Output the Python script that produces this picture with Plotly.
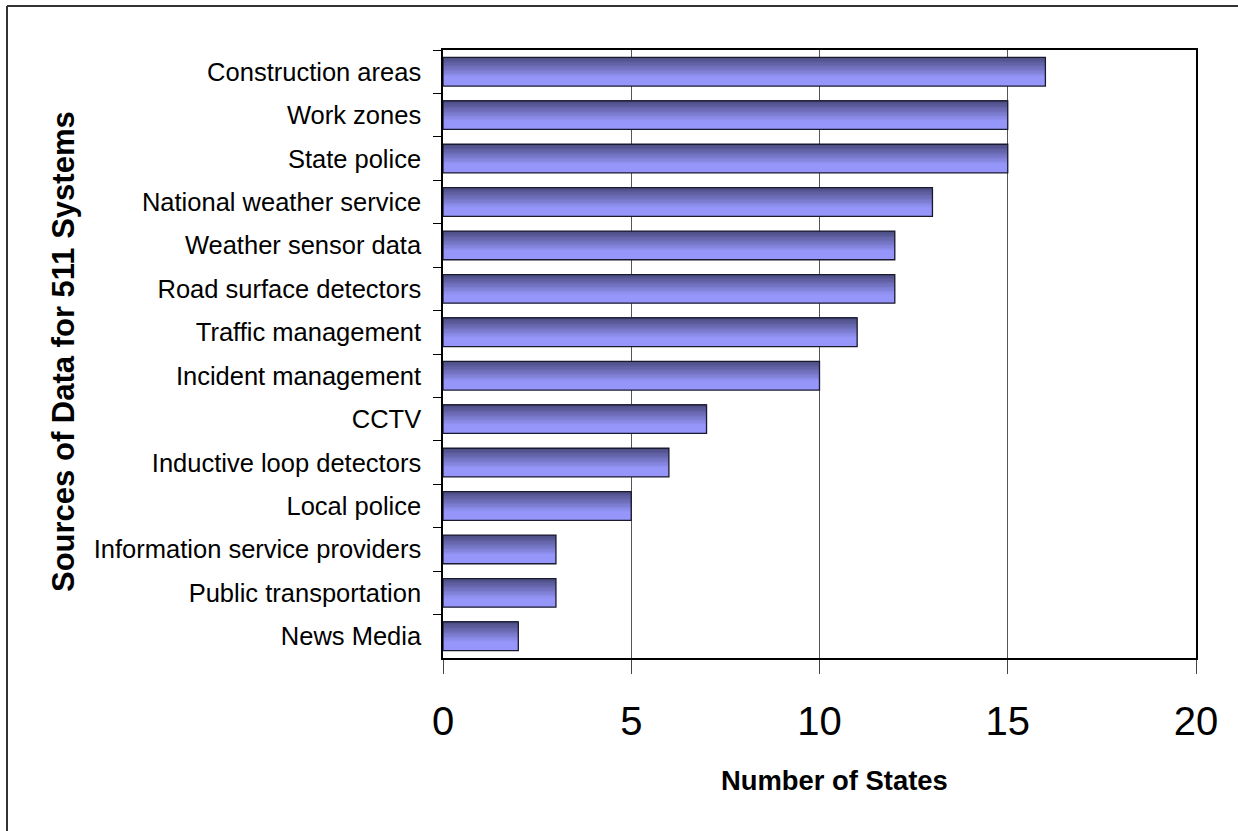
import plotly.graph_objects as go

# Sources of data feeding 511 traveler information systems
sources = [
    "Construction areas", "Work zones", "State police", "National weather service",
    "Weather sensor data", "Road surface detectors", "Traffic management",
    "Incident management", "CCTV", "Inductive loop detectors", "Local police",
    "Information service providers", "Public transportation", "News Media",
]
states = [16, 15, 15, 13, 12, 12, 11, 10, 7, 6, 5, 3, 3, 2]
x_ticks = [0, 5, 10, 15, 20]

fig = go.Figure()

# Vertical shading inside each bar: thin overlaid slices from dark (top) to light (bottom)
bar_w = 0.66
n_slices = 22
dark = (74, 74, 128)
light = (150, 150, 250)
slice_h = bar_w / n_slices
for i in range(n_slices):
    t = min(1.0, i / (n_slices * 0.7))
    c = tuple(round(dark[k] + (light[k] - dark[k]) * t) for k in range(3))
    fig.add_trace(go.Bar(
        x=states, y=sources, orientation="h",
        width=slice_h * 1.05, offset=-bar_w / 2 + i * slice_h,
        marker=dict(color="rgb(%d,%d,%d)" % c, line=dict(width=0)),
        hoverinfo="skip", showlegend=False,
    ))

# Bar outlines
fig.add_trace(go.Bar(
    x=states, y=sources, orientation="h",
    width=bar_w, offset=-bar_w / 2,
    marker=dict(color="rgba(0,0,0,0)", line=dict(color="#1a1a2e", width=1.3)),
    showlegend=False,
))

L, R, T, B = 443, 42, 50, 173
PW, PH = 1238 - L - R, 831 - T - B

fig.update_layout(
    width=1238, height=831,
    margin=dict(l=L, r=R, t=T, b=B),
    paper_bgcolor="white", plot_bgcolor="white",
    barmode="overlay",
    font=dict(family="Arial, Liberation Sans, sans-serif", color="black"),
    xaxis=dict(
        range=[0, 20], tickvals=x_ticks, ticktext=[str(v) for v in x_ticks],
        tickfont=dict(size=40), ticks="outside", ticklen=14, tickcolor="#444444",
        ticklabelstandoff=13,
        showgrid=True, gridcolor="#555555", gridwidth=1,
        showline=True, linecolor="black", linewidth=1.5, mirror=True,
        zeroline=False, fixedrange=True,
    ),
    yaxis=dict(
        categoryorder="array", categoryarray=sources, autorange="reversed",
        tickfont=dict(size=25.5), ticks="outside", ticklen=8, tickcolor="black",
        tickson="boundaries", ticklabelstandoff=15,
        showline=True, linecolor="black", linewidth=1.5, mirror=True,
        showgrid=False, fixedrange=True,
    ),
    annotations=[
        dict(text="<b>Number of States</b>", xref="paper", yref="paper",
             x=(834 - L) / PW, y=(831 - B - 780) / PH, showarrow=False,
             font=dict(size=27.4), xanchor="center", yanchor="middle"),
        dict(text="<b>Sources of Data for 511 Systems</b>", xref="paper", yref="paper",
             x=(63 - L) / PW, y=(831 - B - 352) / PH, showarrow=False,
             font=dict(size=31), textangle=-90, xanchor="center", yanchor="middle"),
    ],
    shapes=[
        dict(type="line", xref="paper", yref="paper",
             x0=(7 - L) / PW, x1=(7 - L) / PW,
             y0=(831 - B - 6) / PH, y1=(831 - B - 835) / PH,
             line=dict(color="#333333", width=2)),
        dict(type="line", xref="paper", yref="paper",
             x0=(7 - L) / PW, x1=(1245 - L) / PW,
             y0=(831 - B - 6) / PH, y1=(831 - B - 6) / PH,
             line=dict(color="#333333", width=2)),
    ],
)

fig.write_html("out.html")
